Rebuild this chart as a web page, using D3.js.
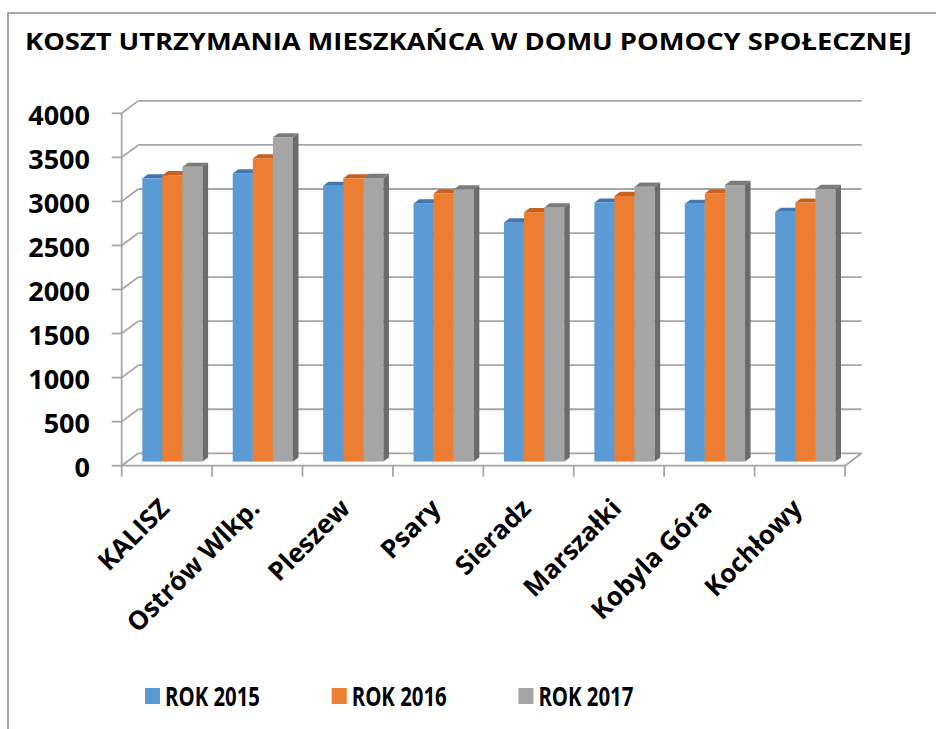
<!DOCTYPE html>
<html>
<head>
<meta charset="utf-8">
<script src="https://cdn.jsdelivr.net/npm/d3@7"></script>
<style>
  body { margin: 0; background: #fff; }
  text { font-family: "Open Sans", sans-serif; font-weight: bold; fill: #000; }
</style>
</head>
<body>
<script>
var categories = ['KALISZ', 'Ostrów Wlkp.', 'Pleszew', 'Psary', 'Sieradz', 'Marszałki', 'Kobyla Góra', 'Kochłowy'];
var seriesNames = ['ROK 2015', 'ROK 2016', 'ROK 2017'];
var rok2015 = [3215, 3270, 3130, 2930, 2715, 2940, 2925, 2835];
var rok2016 = [3250, 3440, 3215, 3045, 2830, 3015, 3045, 2940];
var rok2017 = [3345, 3680, 3220, 3090, 2885, 3120, 3140, 3095];
var yTicks = [0, 500, 1000, 1500, 2000, 2500, 3000, 3500, 4000];
var title = 'KOSZT UTRZYMANIA MIESZKAŃCA W DOMU POMOCY SPOŁECZNEJ';

var seriesValues = [rok2015, rok2016, rok2017];
var front = ['#5b9bd5', '#ed7d31', '#a5a5a5'];
var topc  = ['#4178b4', '#c9621f', '#7c7c7c'];
var side  = ['#41719c', '#ae5a21', '#6b6b6b'];

var width = 936, height = 729;
var plotL = 121.7, plotR = 845, plotB = 465.7, plotT = 113.3;
// oblique depth of the plot box
var dx = 16.6, dy = -12.4;

var svg = d3.select('body').append('svg')
    .attr('width', width)
    .attr('height', height);

// chart frame
svg.append('path')
    .attr('d', 'M8,729V13H936')
    .attr('fill', 'none')
    .attr('stroke', '#8c8c8c')
    .attr('stroke-width', 1.5);

svg.append('text')
    .attr('x', 25)
    .attr('y', 50)
    .attr('font-size', 24)
    .attr('textLength', 887)
    .attr('lengthAdjust', 'spacingAndGlyphs')
    .text(title);

var x = d3.scaleBand().domain(categories).range([plotL, plotR]);
var xs = d3.scaleBand().domain(seriesNames).range([0, x.bandwidth()]).paddingOuter(0.75);
var y = d3.scaleLinear().domain([0, 4000]).range([plotB, plotT]);

var grid = svg.append('g')
    .attr('stroke', '#a6a6a6')
    .attr('stroke-width', 1.8)
    .attr('fill', 'none');

// back wall gridlines
grid.selectAll('.back')
  .data(yTicks)
  .enter()
    .append('line')
    .attr('x1', plotL + dx)
    .attr('x2', plotR + dx)
    .attr('y1', function(d){ return y(d) + dy; })
    .attr('y2', function(d){ return y(d) + dy; });

// side wall diagonals
grid.selectAll('.diag')
  .data(yTicks)
  .enter()
    .append('line')
    .attr('x1', plotL)
    .attr('x2', plotL + dx)
    .attr('y1', function(d){ return y(d); })
    .attr('y2', function(d){ return y(d) + dy; });

// floor right edge and front edge
grid.append('line')
    .attr('x1', plotR).attr('y1', y(0))
    .attr('x2', plotR + dx).attr('y2', y(0) + dy);
grid.append('line')
    .attr('x1', plotL).attr('y1', y(0))
    .attr('x2', plotR).attr('y2', y(0));

// value axis
grid.append('line')
    .attr('x1', plotL).attr('y1', y(4000))
    .attr('x2', plotL).attr('y2', y(0) + 11);
grid.selectAll('.ytick')
  .data(yTicks)
  .enter()
    .append('line')
    .attr('x1', plotL - 10)
    .attr('x2', plotL)
    .attr('y1', function(d){ return y(d); })
    .attr('y2', function(d){ return y(d); });

// category ticks
grid.selectAll('.xtick')
  .data(categories)
  .enter()
    .append('line')
    .attr('x1', function(d){ return x(d) + x.bandwidth(); })
    .attr('x2', function(d){ return x(d) + x.bandwidth(); })
    .attr('y1', y(0))
    .attr('y2', y(0) + 11);

svg.selectAll('.ylabel')
  .data(yTicks)
  .enter()
    .append('text')
    .attr('x', 90)
    .attr('y', function(d){ return y(d); })
    .attr('dy', '0.43em')
    .attr('text-anchor', 'end')
    .attr('font-size', 27)
    .text(function(d){ return d; });

// bars, drawn at 1/3 .. 2/3 of the depth
var d1x = dx / 3, d1y = dy / 3, d2x = dx * 2 / 3, d2y = dy * 2 / 3;
var bars = [];
categories.forEach(function(c, i){
  seriesNames.forEach(function(s, j){
    bars.push({cat: c, s: s, j: j, v: seriesValues[j][i]});
  });
});

var bar = svg.append('g').selectAll('g')
  .data(bars)
  .enter()
    .append('g');

function bx(d){ return x(d.cat) + xs(d.s); }

bar.append('rect')
    .attr('x', function(d){ return bx(d) + d1x; })
    .attr('y', function(d){ return y(d.v) + d1y; })
    .attr('width', xs.bandwidth())
    .attr('height', function(d){ return y(0) - y(d.v); })
    .attr('fill', function(d){ return front[d.j]; });

bar.append('path')
    .attr('d', function(d){
      var X = bx(d), Y = y(d.v), w = xs.bandwidth();
      return 'M' + (X + d1x) + ',' + (Y + d1y) + 'L' + (X + w + d1x) + ',' + (Y + d1y) +
             'L' + (X + w + d2x) + ',' + (Y + d2y) + 'L' + (X + d2x) + ',' + (Y + d2y) + 'Z';
    })
    .attr('fill', function(d){ return topc[d.j]; });

bar.append('path')
    .attr('d', function(d){
      var X = bx(d) + xs.bandwidth(), Y = y(d.v), Y0 = y(0);
      return 'M' + (X + d1x) + ',' + (Y + d1y) + 'L' + (X + d2x) + ',' + (Y + d2y) +
             'L' + (X + d2x) + ',' + (Y0 + d2y) + 'L' + (X + d1x) + ',' + (Y0 + d1y) + 'Z';
    })
    .attr('fill', function(d){ return side[d.j]; });

svg.selectAll('.xlabel')
  .data(categories)
  .enter()
    .append('text')
    .attr('text-anchor', 'end')
    .attr('font-size', 26)
    .attr('transform', function(d){
      return 'translate(' + (x(d) + x.bandwidth() / 2 + 4) + ',' + 510 + ') rotate(-45)';
    })
    .text(function(d){ return d; });

// legend
var legend = svg.selectAll('.legend')
  .data(seriesNames)
  .enter()
    .append('g')
    .attr('transform', function(d, i){ return 'translate(' + (145 + i * 186.7) + ',688)'; });

legend.append('rect')
    .attr('width', 15)
    .attr('height', 16)
    .attr('fill', function(d, i){ return front[i]; });

legend.append('text')
    .attr('x', 20)
    .attr('y', 17.5)
    .attr('font-size', 27)
    .attr('textLength', 95)
    .attr('lengthAdjust', 'spacingAndGlyphs')
    .text(function(d){ return d; });
</script>
</body>
</html>
